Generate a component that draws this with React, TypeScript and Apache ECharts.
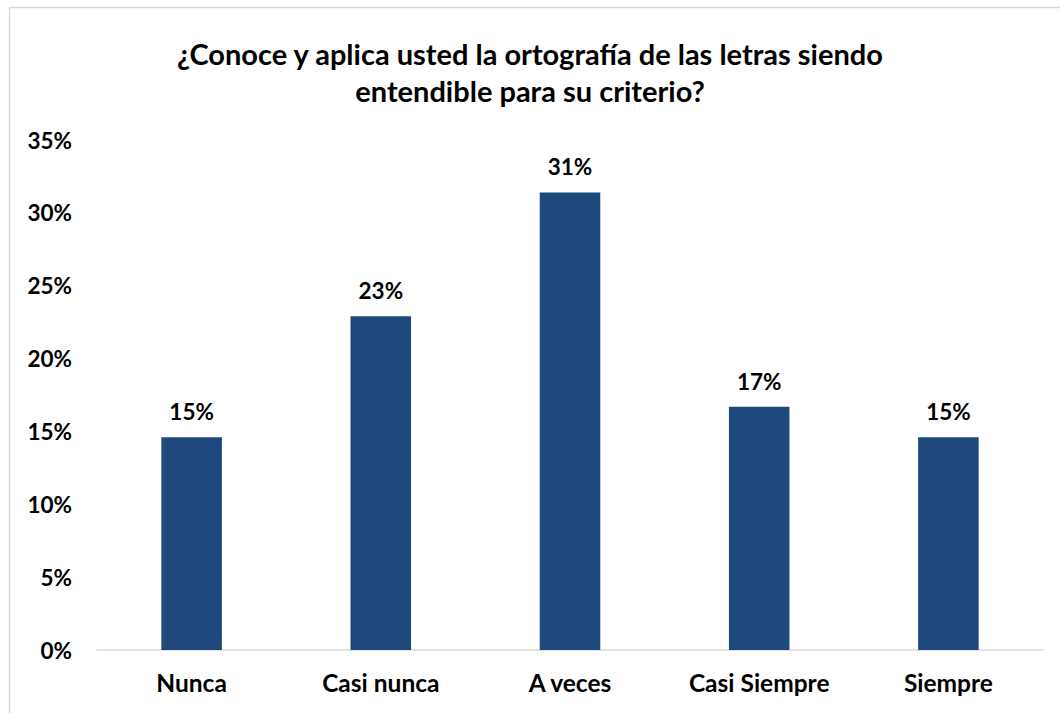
import React, { useEffect, useRef } from "react";
import * as echarts from "echarts";

const titleText = "¿Conoce y aplica usted la ortografía de las letras siendo\nentendible para su criterio?";
const categories = ["Nunca", "Casi nunca", "A veces", "Casi Siempre", "Siempre"];
const values = [14.6, 22.9, 31.4, 16.7, 14.6];
const yTicks = { min: 0, max: 35, interval: 5 };

const FONT = "Lato, 'Noto Sans', sans-serif";

export default function App() {
  const ref = useRef<HTMLDivElement>(null);
  useEffect(() => {
    document.body.style.margin = "0";
    const chart = echarts.init(ref.current!, undefined, { renderer: "svg" });
    chart.setOption({
      animation: false,
      backgroundColor: "#ffffff",
      graphic: [
        {
          type: "rect",
          shape: { x: 9.5, y: 7.5, width: 1100, height: 800 },
          style: { fill: "none", stroke: "#d9d9d9", lineWidth: 1.5 },
          silent: true,
          z: -1,
        },
      ],
      title: {
        text: titleText,
        left: "center",
        top: 30,
        textStyle: {
          fontFamily: FONT,
          fontWeight: "bold",
          fontSize: 29,
          lineHeight: 37,
          color: "#000000",
        },
      },
      grid: { left: 97, right: 17, top: 140, bottom: 63 },
      xAxis: {
        type: "category",
        data: categories,
        axisLine: { lineStyle: { color: "#d9d9d9", width: 1.5 } },
        axisTick: { show: false },
        axisLabel: {
          fontFamily: FONT,
          fontWeight: "bold",
          fontSize: 24.5,
          color: "#000000",
          margin: 20,
        },
      },
      yAxis: {
        type: "value",
        min: yTicks.min,
        max: yTicks.max,
        interval: yTicks.interval,
        axisLine: { show: false },
        axisTick: { show: false },
        splitLine: { show: false },
        axisLabel: {
          fontFamily: FONT,
          fontWeight: "bold",
          fontSize: 22.5,
          color: "#000000",
          margin: 25,
          formatter: (v: number) => v + "%",
        },
      },
      series: [
        {
          type: "bar",
          data: values,
          barWidth: "32%",
          itemStyle: { color: "#1f497c" },
          label: {
            show: true,
            position: "top",
            distance: 14,
            fontFamily: FONT,
            fontWeight: "bold",
            fontSize: 22.5,
            color: "#000000",
            formatter: (p: any) => Math.round(p.value) + "%",
          },
        },
      ],
    });
    return () => chart.dispose();
  }, []);
  return <div ref={ref} style={{ width: 1060, height: 713 }} />;
}
